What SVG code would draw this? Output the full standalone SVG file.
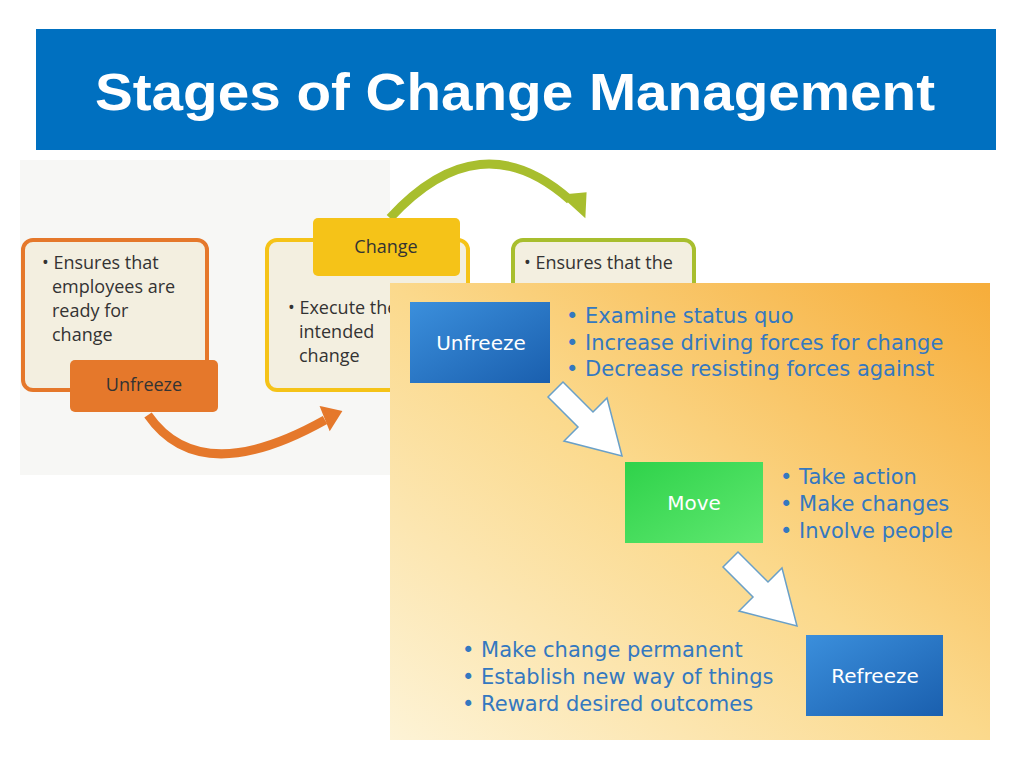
<svg xmlns="http://www.w3.org/2000/svg" width="1024" height="768" viewBox="0 0 1024 768">
<defs>
<style>
.t{font-family:"Open Sans","Liberation Sans",sans-serif;font-size:18px;fill:#333}
.b{font-family:"DejaVu Sans",sans-serif;font-size:21px;fill:#3478c0}
.w{font-family:"DejaVu Sans",sans-serif;font-size:20px;fill:#fff}
</style>
<linearGradient id="bg" x1="0" y1="1" x2="1" y2="0">
<stop offset="0" stop-color="#fdf3d6"/><stop offset="0.5" stop-color="#fbd98c"/><stop offset="1" stop-color="#f6ad3a"/>
</linearGradient>
<linearGradient id="blue" x1="0" y1="0" x2="1" y2="1"><stop offset="0" stop-color="#3b8fdc"/><stop offset="1" stop-color="#1a5fae"/></linearGradient>
<linearGradient id="green" x1="0" y1="0" x2="1" y2="1"><stop offset="0" stop-color="#2fd24a"/><stop offset="1" stop-color="#5fe870"/></linearGradient>
</defs>
<rect width="1024" height="768" fill="#fff"/>
<rect x="36" y="29" width="960" height="121" fill="#0070C0"/>
<text x="95" y="110" font-family="Liberation Sans, Arial, sans-serif" font-weight="bold" font-size="52" textLength="840" lengthAdjust="spacingAndGlyphs" fill="#fff">Stages of Change Management</text>
<rect x="20" y="160" width="370" height="315" fill="#f7f7f5"/>
<g id="connectors" fill="none" stroke-width="9">
<path d="M148,415 Q200,490 325,420" stroke="#e5782b"/>
<path d="M322,408 L340,412 L330,428 Z" fill="#e5782b" stroke="#e5782b" stroke-width="3"/>
<path d="M390,218 Q480,120 570,200" stroke="#a8be2e"/>
<path d="M563,196 L584,215 L585,194 Z" fill="#a8be2e" stroke="#a8be2e" stroke-width="3"/>
</g>
<g id="box1">
<rect x="23" y="240" width="184" height="150" rx="10" fill="#f3efe0" stroke="#e5782b" stroke-width="4"/>
<text class="t"><tspan x="42" y="269">• Ensures that</tspan><tspan x="52" y="293">employees are</tspan><tspan x="52" y="317">ready for</tspan><tspan x="52" y="341">change</tspan></text>
</g>
<g id="unfreeze1"><rect x="70" y="360" width="148" height="52" rx="5" fill="#e5782b"/><text x="144" y="391" text-anchor="middle" class="t">Unfreeze</text></g>
<g id="box2">
<rect x="267" y="240" width="201" height="150" rx="10" fill="#f3efe0" stroke="#f5c318" stroke-width="4"/>
<text class="t"><tspan x="288" y="314">• Execute the</tspan><tspan x="299" y="338">intended</tspan><tspan x="299" y="362">change</tspan></text>
</g>
<g id="change1"><rect x="313" y="218" width="147" height="58" rx="5" fill="#f5c318"/><text x="386" y="253" text-anchor="middle" class="t">Change</text></g>
<g id="box3">
<rect x="513" y="240" width="181" height="80" rx="10" fill="#f3efe0" stroke="#a8be2e" stroke-width="4"/>
<text x="524" y="269" class="t">• Ensures that the</text>
</g>
<g id="panel">
<rect x="390" y="283" width="600" height="457" fill="url(#bg)"/>
</g>
<g id="unfreeze"><rect x="410" y="302" width="140" height="81" fill="url(#blue)"/><text x="481" y="350" text-anchor="middle" class="w">Unfreeze</text></g>
<text class="b"><tspan x="566" y="323">•  Examine status quo</tspan><tspan x="566" y="350">•  Increase driving forces for change</tspan><tspan x="566" y="376">•  Decrease resisting forces against</tspan></text>
<g id="move"><rect x="625" y="462" width="138" height="81" fill="url(#green)"/><text x="694" y="510" text-anchor="middle" class="w">Move</text></g>
<text class="b"><tspan x="780" y="484">•  Take action</tspan><tspan x="780" y="511">•  Make changes</tspan><tspan x="780" y="538">•  Involve people</tspan></text>
<g id="refreeze"><rect x="806" y="635" width="137" height="81" fill="url(#blue)"/><text x="875" y="683" text-anchor="middle" class="w">Refreeze</text></g>
<text class="b"><tspan x="462" y="657">•  Make change permanent</tspan><tspan x="462" y="684">•  Establish new way of things</tspan><tspan x="462" y="711">•  Reward desired outcomes</tspan></text>
<g id="arrows" fill="#fff" stroke="#6aa0c8" stroke-width="1.5">
<path d="M563,382 L593,412 L607,398 L622,456 L564,441 L578,427 L548,397 Z"/>
<path d="M738,552 L768,582 L782,568 L797,626 L739,611 L753,597 L723,567 Z"/>
</g>
</svg>
